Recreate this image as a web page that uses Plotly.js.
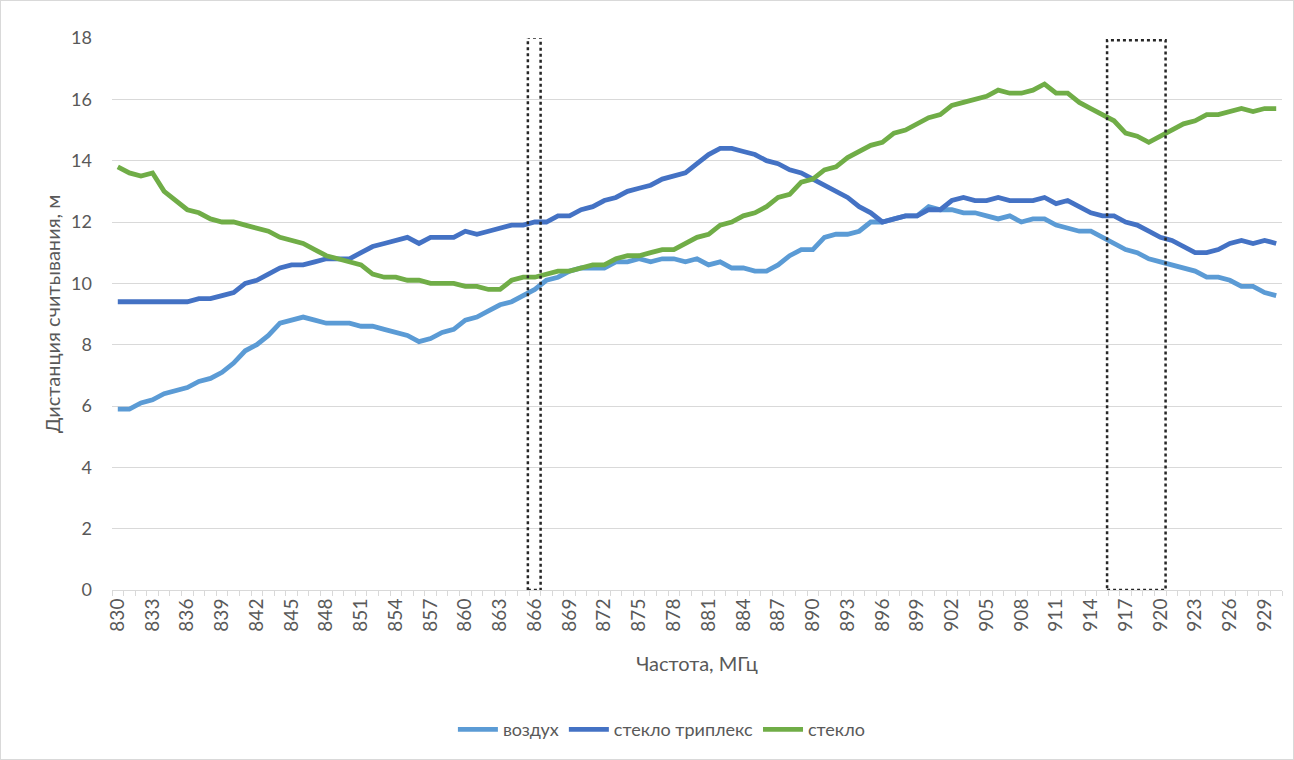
<!DOCTYPE html>
<html>
<head>
<meta charset="utf-8">
<script src="https://cdn.plot.ly/plotly-3.0.1.min.js"></script>
<style>
html,body{margin:0;padding:0;background:#fff;}
#chart{width:1292px;height:758px;border:1px solid #d9d9d9;}
</style>
</head>
<body>
<div id="chart"></div>
<script>
const freq = [];
for (let f = 830; f <= 930; f++) freq.push(f);

const airValues = [
  5.9,5.9,6.1,6.2,6.4,6.5,6.6,6.8,6.9,7.1,7.4,7.8,8.0,8.3,8.7,8.8,8.9,8.8,8.7,8.7,8.7,8.6,8.6,8.5,8.4,
  8.3,8.1,8.2,8.4,8.5,8.8,8.9,9.1,9.3,9.4,9.6,9.8,10.1,10.2,10.4,10.5,10.5,10.5,10.7,10.7,10.8,10.7,10.8,10.8,
  10.7,10.8,10.6,10.7,10.5,10.5,10.4,10.4,10.6,10.9,11.1,11.1,11.5,11.6,11.6,11.7,12.0,12.0,12.1,12.2,12.2,12.5,12.4,12.4,
  12.3,12.3,12.2,12.1,12.2,12.0,12.1,12.1,11.9,11.8,11.7,11.7,11.5,11.3,11.1,11.0,10.8,10.7,10.6,10.5,10.4,10.2,10.2,10.1,9.9,9.9,9.7,9.6
];
const triplexValues = [
  9.4,9.4,9.4,9.4,9.4,9.4,9.4,9.5,9.5,9.6,9.7,10.0,10.1,10.3,10.5,10.6,10.6,10.7,10.8,10.8,10.8,11.0,11.2,11.3,11.4,
  11.5,11.3,11.5,11.5,11.5,11.7,11.6,11.7,11.8,11.9,11.9,12.0,12.0,12.2,12.2,12.4,12.5,12.7,12.8,13.0,13.1,13.2,13.4,13.5,
  13.6,13.9,14.2,14.4,14.4,14.3,14.2,14.0,13.9,13.7,13.6,13.4,13.2,13.0,12.8,12.5,12.3,12.0,12.1,12.2,12.2,12.4,12.4,12.7,
  12.8,12.7,12.7,12.8,12.7,12.7,12.7,12.8,12.6,12.7,12.5,12.3,12.2,12.2,12.0,11.9,11.7,11.5,11.4,11.2,11.0,11.0,11.1,11.3,11.4,11.3,11.4,11.3
];
const glassValues = [
  13.8,13.6,13.5,13.6,13.0,12.7,12.4,12.3,12.1,12.0,12.0,11.9,11.8,11.7,11.5,11.4,11.3,11.1,10.9,10.8,10.7,10.6,10.3,10.2,10.2,
  10.1,10.1,10.0,10.0,10.0,9.9,9.9,9.8,9.8,10.1,10.2,10.2,10.3,10.4,10.4,10.5,10.6,10.6,10.8,10.9,10.9,11.0,11.1,11.1,
  11.3,11.5,11.6,11.9,12.0,12.2,12.3,12.5,12.8,12.9,13.3,13.4,13.7,13.8,14.1,14.3,14.5,14.6,14.9,15.0,15.2,15.4,15.5,15.8,
  15.9,16.0,16.1,16.3,16.2,16.2,16.3,16.5,16.2,16.2,15.9,15.7,15.5,15.3,14.9,14.8,14.6,14.8,15.0,15.2,15.3,15.5,15.5,15.6,15.7,15.6,15.7,15.7
];
const seriesNames = ["воздух", "стекло триплекс", "стекло"];
const seriesColors = ["#5B9BD5", "#4472C4", "#70AD47"];

const tickVals = freq.filter((f, i) => i % 3 === 0);
const tickText = tickVals.map(String);
const yTicks = [0,2,4,6,8,10,12,14,16,18];

// highlighted frequency bands (dotted frames)
const bands = [[865.4, 866.5, 18.02], [915.4, 920.45, 17.93]];

const allValues = [airValues, triplexValues, glassValues];
const traces = allValues.map((vals, k) => ({
  x: freq, y: vals, type: "scatter", mode: "lines",
  name: seriesNames[k],
  line: {color: seriesColors[k], width: 4.8}
}));

const FONT = "Lato, 'Open Sans', sans-serif";
const layout = {
  width: 1292, height: 758,
  margin: {l: 111, r: 11, t: 37, b: 166},
  paper_bgcolor: "#ffffff", plot_bgcolor: "#ffffff",
  font: {family: FONT, color: "#595959", size: 18},
  showlegend: true,
  legend: {orientation: "h", x: 0.47, xanchor: "center", y: -0.253, yanchor: "middle",
           font: {size: 18, color: "#595959"}, traceorder: "normal", itemwidth: 40},
  xaxis: {
    type: "linear", range: [829.5, 930.5],
    tickmode: "array", tickvals: tickVals, ticktext: tickText, tickangle: -90,
    ticks: "", showgrid: false, zeroline: false,
    showline: true, linecolor: "#d9d9d9", linewidth: 1,
    tickfont: {size: 19, color: "#595959"},
    minor: {dtick: 1, tick0: 829.5, ticks: "outside", ticklen: 5, tickcolor: "#d9d9d9", showgrid: false},
    title: {text: "Частота, МГц", font: {size: 20, color: "#595959"}, standoff: 26}
  },
  yaxis: {
    range: [0, 18], tickmode: "array", tickvals: yTicks,
    showgrid: true, gridcolor: "#d9d9d9", gridwidth: 1,
    zeroline: false, showline: false, ticks: "",
    tickfont: {size: 18, color: "#595959"},
    ticklabelstandoff: 19,
    title: {text: "Дистанция считывания, м", font: {size: 20, color: "#595959"}, standoff: 5}
  },
  shapes: bands.map(b => ({
    type: "rect", xref: "x", yref: "y", x0: b[0], x1: b[1], y0: 0, y1: b[2],
    line: {color: "#262626", width: 2.5, dash: "dot"}, fillcolor: "rgba(0,0,0,0)", layer: "above"
  }))
};

Plotly.newPlot("chart", traces, layout, {displayModeBar: false, staticPlot: true});
</script>
</body>
</html>
